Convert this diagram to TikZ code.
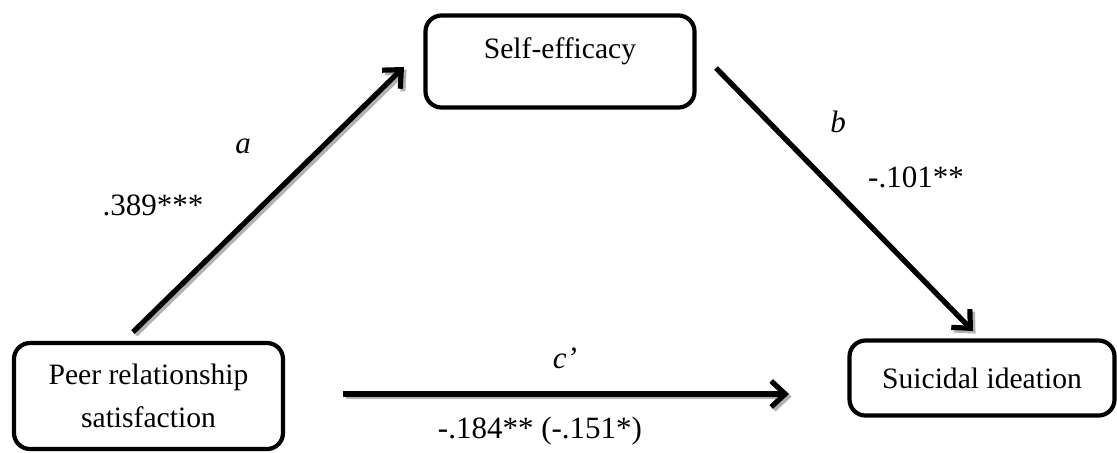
\documentclass[tikz,border=0pt]{standalone}
\usepackage{fontspec}
\setmainfont{Liberation Serif}
\usetikzlibrary{arrows.meta,calc}
\begin{document}
\begin{tikzpicture}[x=0.5pt,y=-0.5pt,
  box/.style={draw, line width=2.1pt, rounded corners=8pt, inner sep=0pt, align=center, font=\fontsize{14.8}{21.5}\selectfont},
  boxtext/.style={inner sep=0pt, anchor=base, font=\fontsize{14.8}{21.5}\selectfont},
  lbl/.style={inner sep=0pt, anchor=base, font=\fontsize{15.5}{18}\selectfont},
  pathline/.style={line width=2.6pt, -{Straight Barb[length=7pt,width=13pt]}},
  shadowline/.style={pathline, draw=gray!60, transform canvas={xshift=1.3pt,yshift=-1.3pt}}
]
\useasboundingbox (0,0) rectangle (1117,452);

% boxes
\node[box, minimum width=134.5pt, minimum height=53pt] (peer) at (148.5,396) {Peer relationship\\satisfaction};
\node[box, minimum width=134.5pt, minimum height=46pt] (se) at (560,61.5) {};
\node[boxtext] (setext) at (560,58) {Self-efficacy};
\node[box, minimum width=132.5pt, minimum height=37.5pt] (si) at (982,378) {Suicidal ideation};

% arrow end points
\coordinate (a1) at (133,332);
\coordinate (a2) at (404,67);
\coordinate (b1) at (716,68);
\coordinate (b2) at (973,331);
\coordinate (c1) at (343,394);
\coordinate (c2) at (789,394);

% shadows
\draw[shadowline] (a1) -- (a2);
\draw[shadowline] (b1) -- (b2);
\draw[shadowline] (c1) -- (c2);
% arrows
\draw[pathline] (a1) -- (a2);
\draw[pathline] (b1) -- (b2);
\draw[pathline] (c1) -- (c2);

% labels
\node[lbl] (la) at (243,153) {\textit{a}};
\node[lbl] (va) at (153,215) {.389***};
\node[lbl] (lb) at (838,132) {\textit{b}};
\node[lbl] (vb) at (916,187) {-.101**};
\node[lbl] (lc) at (565,368) {\textit{c’}};
\node[lbl] (vc) at (540,438) {-.184** (-.151*)};
\end{tikzpicture}
\end{document}
